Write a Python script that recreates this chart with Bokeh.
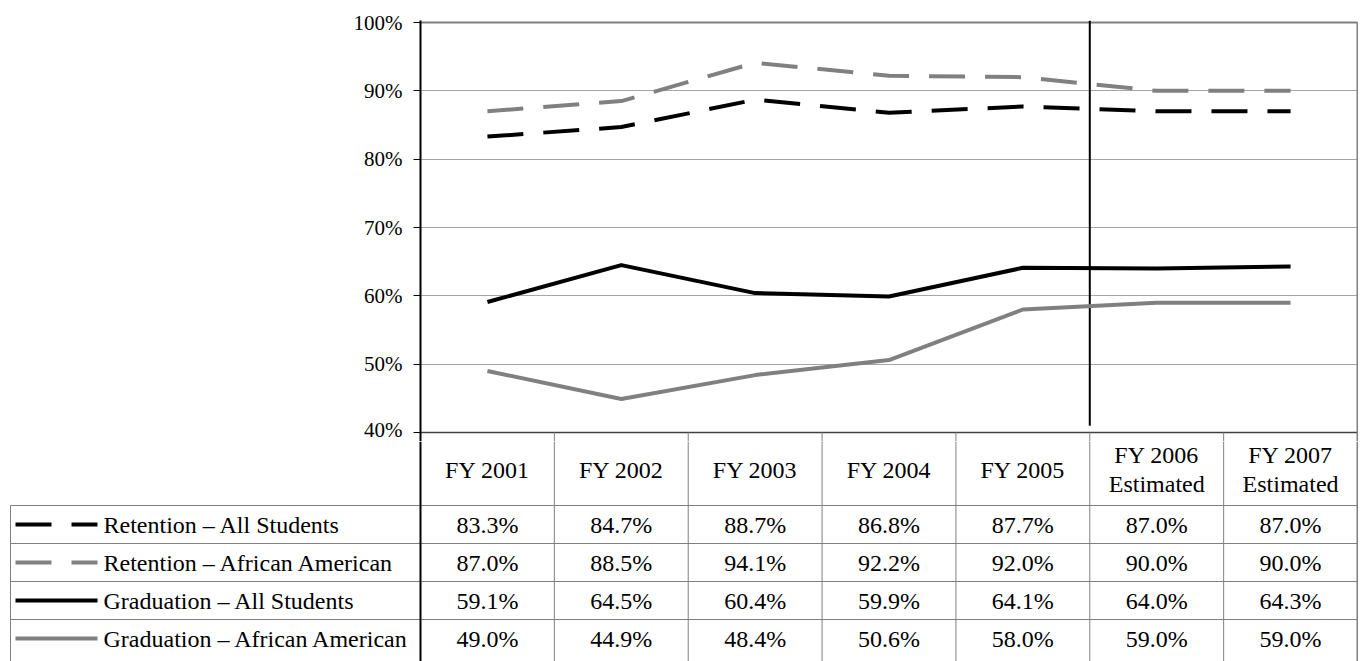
from bokeh.plotting import figure
from bokeh.layouts import column
from bokeh.models import Range1d, FixedTicker, PrintfTickFormatter
from bokeh.core.properties import value
from bokeh.embed import file_html
from bokeh.resources import INLINE

# ---------------- data ----------------
categories = ["FY 2001", "FY 2002", "FY 2003", "FY 2004", "FY 2005",
              "FY 2006\nEstimated", "FY 2007\nEstimated"]
series_names = ["Retention \u2013 All Students", "Retention \u2013 African American",
                "Graduation \u2013 All Students", "Graduation \u2013 African American"]
retention_all = [83.3, 84.7, 88.7, 86.8, 87.7, 87.0, 87.0]
retention_aa = [87.0, 88.5, 94.1, 92.2, 92.0, 90.0, 90.0]
graduation_all = [59.1, 64.5, 60.4, 59.9, 64.1, 64.0, 64.3]
graduation_aa = [49.0, 44.9, 48.4, 50.6, 58.0, 59.0, 59.0]
y_ticks = [40, 50, 60, 70, 80, 90, 100]

series_values = [retention_all, retention_aa, graduation_all, graduation_aa]
series_colors = ["#000000", "#808080", "#000000", "#808080"]
series_dash = ["36 20", "36 20", "solid", "solid"]

FONT_NAME = "'Liberation Serif', 'Times New Roman', serif"
FONT = value(FONT_NAME)
FS = "24px"
GRAY = "#808080"
n = len(categories)
xs = list(range(n))

W = 1358
PX = 937 / n                    # pixels per category unit
x_end = (n - 0.5) + 1 / PX      # frame right edge one pixel past the border line
YPX = 410 / 60.0                # pixels per percent

# ---------------- chart ----------------
CH = 441
p = figure(width=W, height=CH, output_backend="svg", toolbar_location=None,
           x_range=Range1d(-0.5, x_end),
           y_range=Range1d(40 - (CH - 432) / YPX, 100 + 2 / YPX),
           x_axis_location=None, min_border_left=420, min_border_right=0,
           min_border_top=20, min_border_bottom=0, tools="", frame_align=False)
p.outline_line_color = None
p.background_fill_color = "white"
p.border_fill_color = "white"
p.xgrid.visible = False
p.ygrid.ticker = FixedTicker(ticks=y_ticks[1:-1])
p.ygrid.grid_line_color = "#a6a6a6"
p.ygrid.grid_line_width = 1

ax = p.yaxis[0]
ax.ticker = FixedTicker(ticks=y_ticks)
ax.formatter = PrintfTickFormatter(format="%d%%")
ax.minor_tick_line_color = None
ax.major_tick_in = 0
ax.major_tick_out = 7
ax.major_tick_line_color = "black"
ax.axis_line_color = "black"
ax.axis_line_width = 2
ax.major_label_text_font = FONT_NAME
ax.major_label_text_font_size = "21px"
ax.major_label_text_color = "black"
ax.major_label_standoff = 11

# top, bottom and right borders of plot area
p.segment(x0=[-0.5, -0.5], y0=[100, 40], x1=[n - 0.5, n - 0.5], y1=[100, 40],
          line_color=[GRAY, "#404040"], line_width=[2, 1.5])
p.segment(x0=[n - 0.5], y0=[p.y_range.start], x1=[n - 0.5], y1=[100],
          line_color=GRAY, line_width=2)
# table column separators in the strip below the 40% line
seps = [i + 0.5 for i in range(n - 1)]
p.segment(x0=seps, y0=[40] * len(seps), x1=seps, y1=[p.y_range.start] * len(seps),
          line_color=GRAY, line_width=1)
# actual / estimated divider
p.segment(x0=[4.5], y0=[41], x1=[4.5], y1=[p.y_range.end], line_color="black", line_width=2)

for vals, col, dash in zip(series_values, series_colors, series_dash):
    p.line(xs, vals, line_color=col, line_width=4, line_dash=dash, line_join="round")

# ---------------- table ----------------
TH = 661 - CH
ROW = 38.0
top_y = (505 - CH) / ROW
bot_y = -(CH + TH - 505) / ROW
x_start = -0.5 - 420 / PX
t = figure(width=W, height=TH, output_backend="svg", toolbar_location=None,
           x_range=Range1d(x_start, x_end), y_range=Range1d(bot_y, top_y),
           x_axis_location=None, y_axis_location=None,
           min_border_left=0, min_border_right=0, min_border_top=0, min_border_bottom=0,
           tools="", frame_align=False)
t.outline_line_color = None
t.grid.visible = False
t.background_fill_color = "white"
t.border_fill_color = "white"

left_edge = -0.5 - 410 / PX
nrows = len(series_names)
# horizontal rules
hy = [-i for i in range(nrows)]
t.segment(x0=[left_edge] * nrows, y0=hy, x1=[n - 0.5] * nrows, y1=hy,
          line_color=GRAY, line_width=1)
# vertical rules
t.segment(x0=[left_edge], y0=[0], x1=[left_edge], y1=[bot_y], line_color=GRAY, line_width=1)
t.segment(x0=seps, y0=[top_y] * len(seps), x1=seps, y1=[bot_y] * len(seps),
          line_color=GRAY, line_width=1)
t.segment(x0=[-0.5], y0=[top_y], x1=[-0.5], y1=[bot_y], line_color="black", line_width=2)
t.segment(x0=[n - 0.5], y0=[top_y], x1=[n - 0.5], y1=[bot_y], line_color=GRAY, line_width=2)

# header labels
t.text(x=xs, y=[(505 - 469) / ROW] * n, text=categories, text_align="center",
       text_baseline="middle", text_font=FONT, text_font_size=FS, text_color="black",
       text_line_height=1.12)

# values
tx, ty, tt = [], [], []
for i, vals in enumerate(series_values):
    for j, v in enumerate(vals):
        tx.append(j)
        ty.append(-i - 0.5)
        tt.append("%.1f%%" % v)
t.text(x=tx, y=ty, text=tt, text_align="center", text_baseline="middle",
       text_font=FONT, text_font_size=FS, text_color="black")

# legend column
sw0 = -0.5 + (15 - 420) / PX
sw1 = -0.5 + (97 - 420) / PX
lx = -0.5 + (103 - 420) / PX
for i, (col, dash) in enumerate(zip(series_colors, series_dash)):
    t.line([sw0, sw1], [-i - 0.5, -i - 0.5], line_color=col, line_width=4, line_dash=dash)
t.text(x=[lx] * nrows, y=[-i - 0.5 for i in range(nrows)], text=series_names,
       text_align="left", text_baseline="middle", text_font=FONT, text_font_size=FS,
       text_color="black")

layout = column(p, t, spacing=0)
open("out.html", "w").write(file_html(layout, INLINE))
